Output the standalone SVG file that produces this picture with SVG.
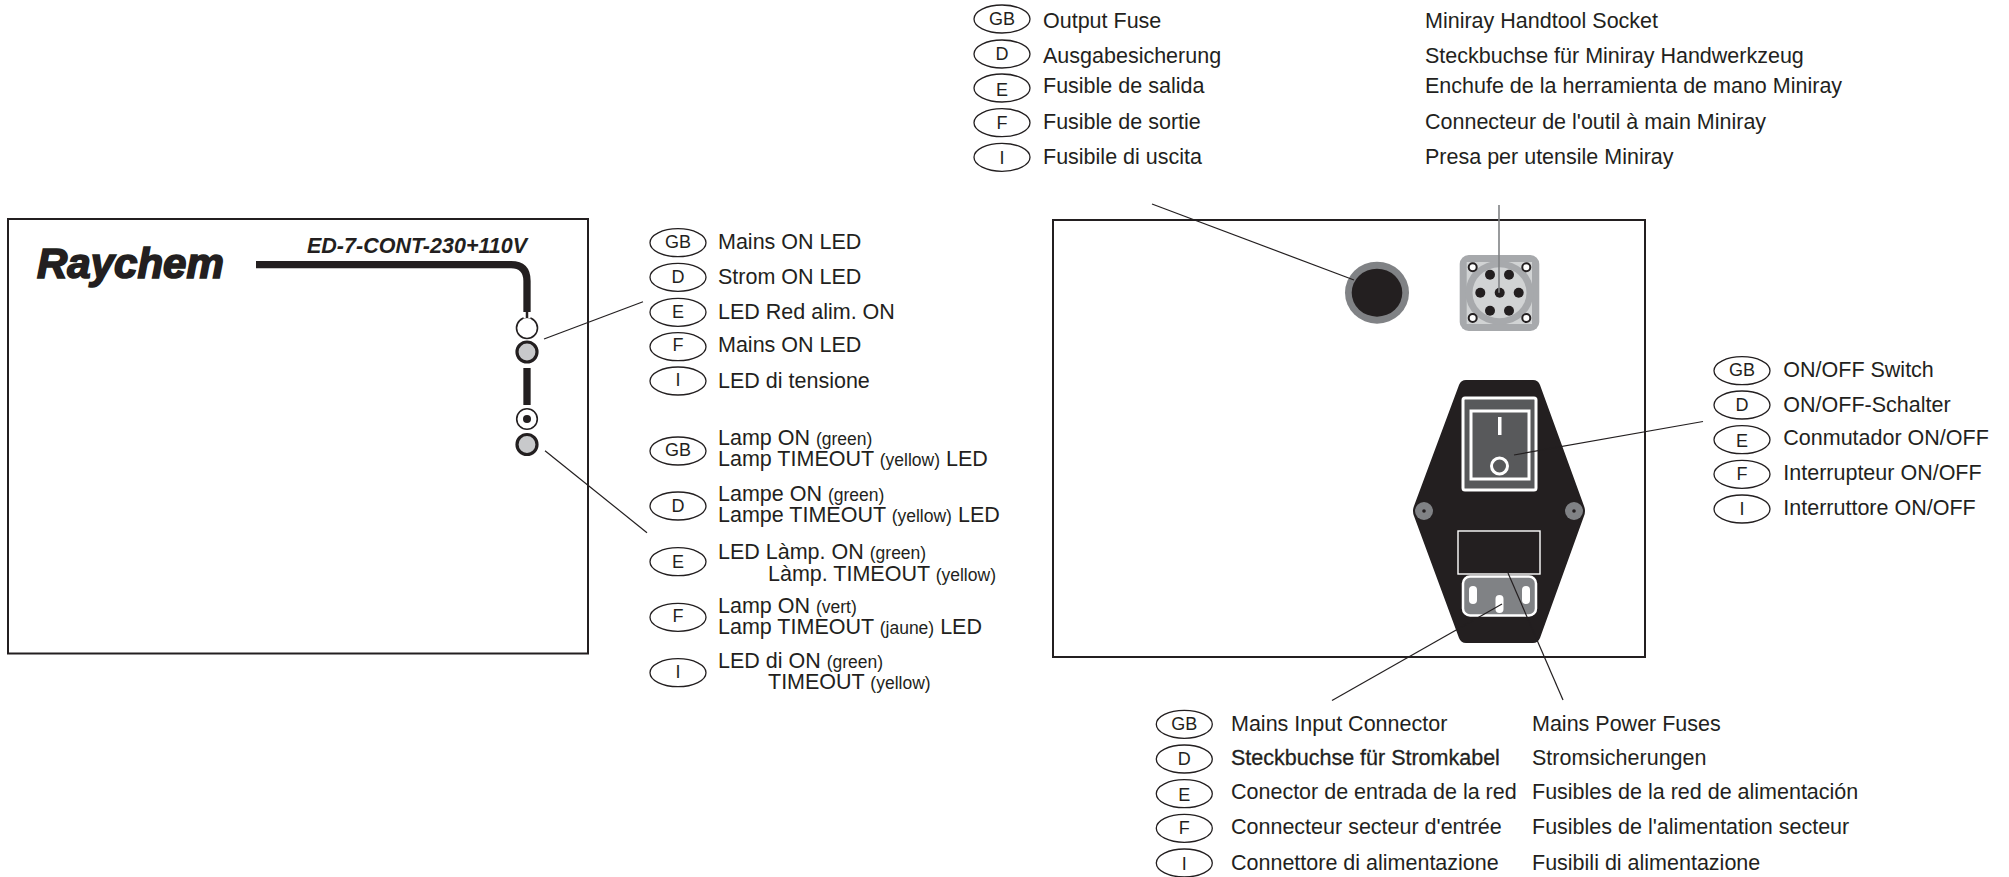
<svg xmlns="http://www.w3.org/2000/svg" width="2009" height="877" viewBox="0 0 2009 877">
<style>
text{font-family:"Liberation Sans",Arial,sans-serif;fill:#231f20}
.l{font-size:21.5px}
.s{font-size:17.5px}
.t{font-size:18px;text-anchor:middle}
.b{fill:#fff;stroke:#231f20;stroke-width:1.3}
.panel{fill:#fff;stroke:#231f20;stroke-width:2}
.c{stroke:#231f20;stroke-width:1.2;fill:none}
.k{fill:#231f20}
.pin{fill:#231f20}
.hole{fill:#fff;stroke:#231f20;stroke-width:2}
</style>
<defs>
<ellipse id="bub" class="b" rx="28" ry="14"/>
</defs>
<g id="left-panel">
<rect class="panel" x="8" y="219" width="580" height="434.500"/>
<text x="37" y="278" font-size="42" font-weight="bold" font-style="italic" stroke="#231f20" stroke-width="1.700">Raychem</text>
<text x="307" y="253" font-size="21.500" font-weight="bold" font-style="italic">ED-7-CONT-230+110V</text>
<path d="M256 264.700 H511 Q527 264.700 527 281 V312" fill="none" stroke="#231f20" stroke-width="7.300"/>
<path d="M527 368V405" fill="none" stroke="#231f20" stroke-width="7.300"/>
<circle cx="527" cy="328" r="10.500" fill="#fff" stroke="#231f20" stroke-width="1.600"/>
<path d="M527 314V318.500" stroke="#fff" stroke-width="7"/>
<path d="M527 312V318" stroke="#231f20" stroke-width="2.500"/>
<circle cx="527" cy="352" r="10" fill="#c8c9cb" stroke="#231f20" stroke-width="3.200"/>
<circle cx="527" cy="419" r="10.300" fill="#fff" stroke="#231f20" stroke-width="1.600"/>
<circle cx="527" cy="419" r="4" fill="#231f20"/>
<circle cx="527" cy="444.500" r="10" fill="#c8c9cb" stroke="#231f20" stroke-width="3.200"/>
</g>
<g id="right-panel">
<rect class="panel" x="1053" y="220" width="592" height="437"/>
<ellipse cx="1377" cy="292.700" rx="32" ry="31" fill="#808285"/>
<ellipse cx="1377" cy="292.700" rx="25.300" ry="24" fill="#231f20"/>
<g id="socket">
<rect x="1459.700" y="255" width="79.600" height="76" rx="9" fill="#a7a9ac"/>
<rect x="1466.700" y="262" width="65.300" height="62" fill="#d1d3d4"/>
<ellipse cx="1499.500" cy="292.700" rx="34" ry="32" fill="#a7a9ac"/>
<ellipse cx="1499.500" cy="292.700" rx="27" ry="25.500" fill="#d1d3d4"/>
<circle class="hole" cx="1472.700" cy="267.300" r="4"/><circle class="hole" cx="1526.300" cy="267.300" r="4"/><circle class="hole" cx="1472.700" cy="318" r="4"/><circle class="hole" cx="1526.300" cy="318" r="4"/>
<circle class="pin" cx="1490" cy="274.700" r="5"/><circle class="pin" cx="1509" cy="274.700" r="5"/><circle class="pin" cx="1480.300" cy="292.700" r="5"/><circle class="pin" cx="1499.700" cy="292.700" r="5"/><circle class="pin" cx="1518.700" cy="292.700" r="5"/><circle class="pin" cx="1490" cy="310.700" r="5"/><circle class="pin" cx="1509" cy="310.700" r="5"/>
</g>
<g id="module">
<path class="k" d="M1466 380H1533Q1538 380 1540 385L1584 506Q1586 511 1584 516L1540 638Q1538 643 1533 643H1466Q1461 643 1459 638L1414 516Q1412 511 1414 506L1459 385Q1461 380 1466 380Z"/>
<rect x="1463" y="398" width="73" height="92" rx="2" fill="#58595b" stroke="#fff" stroke-width="3"/>
<rect x="1471" y="411" width="58" height="68" fill="#58595b" stroke="#fff" stroke-width="3"/>
<rect x="1498" y="417" width="3.500" height="18" fill="#fff"/>
<circle cx="1499.500" cy="466" r="8" fill="#58595b" stroke="#fff" stroke-width="3"/>
<circle cx="1424" cy="511" r="9" fill="#808285"/><circle cx="1424" cy="511" r="1.800" fill="#231f20"/>
<circle cx="1574" cy="511" r="9" fill="#808285"/><circle cx="1574" cy="511" r="1.800" fill="#231f20"/>
<rect x="1458" y="531" width="82" height="43" fill="#231f20" stroke="#fff" stroke-width="1.400"/>
<rect x="1463" y="576.500" width="73" height="39" rx="7" fill="#808285" stroke="#fff" stroke-width="2.500"/>
<rect x="1469" y="586" width="8" height="18" rx="4" fill="#fff"/>
<rect x="1522" y="586" width="8" height="18" rx="4" fill="#fff"/>
<rect x="1495.500" y="595" width="8" height="18" rx="4" fill="#fff"/>
</g>
</g>
<g id="connectors">
<path class="c" d="M544 339L643 301.700"/>
<path class="c" d="M545 450.700L647 532.700"/>
<path class="c" d="M1152 204L1354 280"/>
<path d="M1499 205V292.700" fill="none" stroke="#808285" stroke-width="1.600"/>
<path class="c" d="M1514 455L1703 421.500"/>
<path class="c" d="M1502 604L1332 700.500"/>
<path class="c" d="M1508 573L1563 700"/>
</g>
<g id="legend-top">
<use href="#bub" x="1002" y="19"/><text class="t" x="1002" y="24.500">GB</text><text class="l" x="1043" y="28.300">Output Fuse</text><text class="l" x="1425" y="28.300">Miniray Handtool Socket</text>
<use href="#bub" x="1002" y="54"/><text class="t" x="1002" y="59.500">D</text><text class="l" x="1043" y="62.700">Ausgabesicherung</text><text class="l" x="1425" y="62.700">Steckbuchse für Miniray Handwerkzeug</text>
<use href="#bub" x="1002" y="88"/><text class="t" x="1002" y="95.700">E</text><text class="l" x="1043" y="92.700">Fusible de salida</text><text class="l" x="1425" y="92.700">Enchufe de la herramienta de mano Miniray</text>
<use href="#bub" x="1002" y="122.700"/><text class="t" x="1002" y="128.500">F</text><text class="l" x="1043" y="129">Fusible de sortie</text><text class="l" x="1425" y="129">Connecteur de l'outil à main Miniray</text>
<use href="#bub" x="1002" y="157.300"/><text class="t" x="1002" y="164">I</text><text class="l" x="1043" y="164.300">Fusibile di uscita</text><text class="l" x="1425" y="164.300">Presa per utensile Miniray</text>
</g>
<g id="legend-led1">
<use href="#bub" x="678" y="242.700"/><text class="t" x="678" y="248.300">GB</text><text class="l" x="718" y="249.300">Mains ON LED</text>
<use href="#bub" x="678" y="277.300"/><text class="t" x="678" y="283">D</text><text class="l" x="718" y="284.300">Strom ON LED</text>
<use href="#bub" x="678" y="312.300"/><text class="t" x="678" y="318.300">E</text><text class="l" x="718" y="319.300">LED Red alim. ON</text>
<use href="#bub" x="678" y="346.700"/><text class="t" x="678" y="351">F</text><text class="l" x="718" y="352">Mains ON LED</text>
<use href="#bub" x="678" y="381"/><text class="t" x="678" y="386">I</text><text class="l" x="718" y="388.300">LED di tensione</text>
</g>
<g id="legend-led2">
<use href="#bub" x="678" y="451"/><text class="t" x="678" y="456">GB</text>
<text class="l" x="718" y="444.500">Lamp ON <tspan class="s">(green)</tspan></text><text class="l" x="718" y="465.700">Lamp TIMEOUT <tspan class="s">(yellow)</tspan> LED</text>
<use href="#bub" x="678" y="506"/><text class="t" x="678" y="511.700">D</text>
<text class="l" x="718" y="500.700">Lampe ON <tspan class="s">(green)</tspan></text><text class="l" x="718" y="521.700">Lampe TIMEOUT <tspan class="s">(yellow)</tspan> LED</text>
<use href="#bub" x="678" y="561.700"/><text class="t" x="678" y="568.300">E</text>
<text class="l" x="718" y="559.300">LED Làmp. ON <tspan class="s">(green)</tspan></text><text class="l" x="768" y="580.700">Làmp. TIMEOUT <tspan class="s">(yellow)</tspan></text>
<use href="#bub" x="678" y="617.300"/><text class="t" x="678" y="622.300">F</text>
<text class="l" x="718" y="612.700">Lamp ON <tspan class="s">(vert)</tspan></text><text class="l" x="718" y="634.300">Lamp TIMEOUT <tspan class="s">(jaune)</tspan> LED</text>
<use href="#bub" x="678" y="672.700"/><text class="t" x="678" y="678.300">I</text>
<text class="l" x="718" y="668.300">LED di ON <tspan class="s">(green)</tspan></text><text class="l" x="768" y="689.300">TIMEOUT <tspan class="s">(yellow)</tspan></text>
</g>
<g id="legend-switch">
<use href="#bub" x="1742" y="370.700"/><text class="t" x="1742" y="376">GB</text><text class="l" x="1783.300" y="376.700">ON/OFF Switch</text>
<use href="#bub" x="1742" y="405"/><text class="t" x="1742" y="411">D</text><text class="l" x="1783.300" y="411.700">ON/OFF-Schalter</text>
<use href="#bub" x="1742" y="439.700"/><text class="t" x="1742" y="446.700">E</text><text class="l" x="1783.300" y="445">Conmutador ON/OFF</text>
<use href="#bub" x="1742" y="474.300"/><text class="t" x="1742" y="480">F</text><text class="l" x="1783.300" y="480">Interrupteur ON/OFF</text>
<use href="#bub" x="1742" y="509"/><text class="t" x="1742" y="515">I</text><text class="l" x="1783.300" y="515">Interruttore ON/OFF</text>
</g>
<g id="legend-bottom">
<use href="#bub" x="1184.300" y="724.300"/><text class="t" x="1184.300" y="730">GB</text><text class="l" x="1231" y="730.700">Mains Input Connector</text><text class="l" x="1532" y="730.700">Mains Power Fuses</text>
<use href="#bub" x="1184.300" y="759"/><text class="t" x="1184.300" y="765">D</text><text class="l" x="1231" y="765" stroke="#231f20" stroke-width="0.300">Steckbuchse für Stromkabel</text><text class="l" x="1532" y="765">Stromsicherungen</text>
<use href="#bub" x="1184.300" y="793.700"/><text class="t" x="1184.300" y="800.700">E</text><text class="l" x="1231" y="799.300">Conector de entrada de la red</text><text class="l" x="1532" y="799.300">Fusibles de la red de alimentación</text>
<use href="#bub" x="1184.300" y="828.300"/><text class="t" x="1184.300" y="834">F</text><text class="l" x="1231" y="834.300">Connecteur secteur d'entrée</text><text class="l" x="1532" y="834.300">Fusibles de l'alimentation secteur</text>
<use href="#bub" x="1184.300" y="863"/><text class="t" x="1184.300" y="870">I</text><text class="l" x="1231" y="870">Connettore di alimentazione</text><text class="l" x="1532" y="870">Fusibili di alimentazione</text>
</g>
</svg>
